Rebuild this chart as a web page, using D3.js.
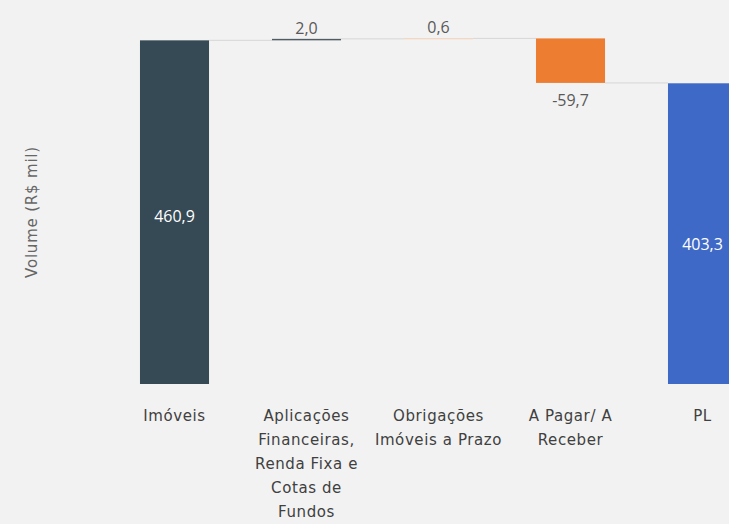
<!DOCTYPE html>
<html>
<head>
<meta charset="utf-8">
<script src="https://cdn.jsdelivr.net/npm/d3@7"></script>
<style>
  body { margin: 0; background: #f2f2f2; }
  svg { display: block; }
</style>
</head>
<body>
<svg></svg>
<script>
// chart data
const categories = ['Imóveis', 'Aplicações Financeiras, Renda Fixa e Cotas de Fundos',
    'Obrigações Imóveis a Prazo', 'A Pagar/ A Receber', 'PL'];
// how each category label is broken in lines
const labelLines = [
    ['Imóveis'],
    ['Aplicações', 'Financeiras,', 'Renda Fixa e', 'Cotas de', 'Fundos'],
    ['Obrigações', 'Imóveis a Prazo'],
    ['A Pagar/ A', 'Receber'],
    ['PL']
];
const values = [460.9, 2.0, 0.6, -59.7, 403.3];
const isTotal = [true, false, false, false, true];
const valueLabels = ['460,9', '2,0', '0,6', '-59,7', '403,3'];
const barColors = ['#354a54', '#4f5c64', '#f6c6a4', '#ed7d31', '#3f69c7'];

const W = 729, H = 524;
const svg = d3.select('svg')
    .attr('width', W)
    .attr('height', H);

// x: band scale, step 132 px, bar 69 px
const x = d3.scaleBand()
    .domain(categories)
    .range([108.5, 108.5 + 5 * 132])
    .paddingInner(0.477)
    .paddingOuter(0.2385);

// y: baseline at 384
const y = d3.scaleLinear()
    .domain([0, 515])
    .range([384, 0]);

// running totals for the waterfall
let run = 0;
const bars = categories.map((c, i) => {
    let start, end;
    if (isTotal[i]) { start = 0; end = values[i]; run = values[i]; }
    else { start = run; end = run + values[i]; run = end; }
    return { cat: c, i: i, start: start, end: end, v: values[i] };
});

// connectors between bars
const conn = svg.append('g');
bars.slice(0, -1).forEach((b, i) => {
    const next = bars[i + 1];
    conn.append('line')
        .attr('x1', x(b.cat) + x.bandwidth())
        .attr('x2', x(next.cat))
        .attr('y1', y(b.end))
        .attr('y2', y(b.end))
        .attr('stroke', '#d6d6d6')
        .attr('stroke-width', 1);
});

// bars
svg.append('g').selectAll('rect')
    .data(bars)
    .join('rect')
    .attr('x', d => x(d.cat))
    .attr('width', x.bandwidth())
    .attr('y', d => y(Math.max(d.start, d.end)))
    .attr('height', d => Math.max(Math.abs(y(d.start) - y(d.end)), 0.8))
    .attr('fill', d => barColors[d.i]);

// value labels
svg.append('g').selectAll('text')
    .data(bars)
    .join('text')
    .attr('x', d => x(d.cat) + x.bandwidth() / 2)
    .attr('y', d => {
        if (isTotal[d.i]) return (y(d.start) + y(d.end)) / 2 + 10 + (d.i === 4 ? 6 : 0);
        if (d.v < 0) return y(Math.min(d.start, d.end)) + 23;
        return y(Math.max(d.start, d.end)) - 5;
    })
    .attr('text-anchor', 'middle')
    .attr('font-family', 'Open Sans, sans-serif')
    .attr('font-size', 16)
    .attr('fill', d => isTotal[d.i] ? '#ffffff' : '#595959')
    .text(d => valueLabels[d.i]);

// category labels
const xl = svg.append('g');
categories.forEach((c, i) => {
    const t = xl.append('text')
        .attr('x', x(c) + x.bandwidth() / 2)
        .attr('y', 421)
        .attr('text-anchor', 'middle')
        .attr('font-family', 'DejaVu Sans, sans-serif')
        .attr('font-size', 15)
        .attr('letter-spacing', 0.6)
        .attr('fill', '#404040');
    labelLines[i].forEach((l, k) => {
        t.append('tspan')
            .attr('x', x(c) + x.bandwidth() / 2)
            .attr('dy', k === 0 ? 0 : 24)
            .text(l);
    });
});

// y axis title
svg.append('text')
    .attr('transform', 'translate(37,212) rotate(-90)')
    .attr('text-anchor', 'middle')
    .attr('font-family', 'DejaVu Sans, sans-serif')
    .attr('font-size', 15)
    .attr('letter-spacing', 0.8)
    .attr('fill', '#666666')
    .text('Volume (R$ mil)');
</script>
</body>
</html>
